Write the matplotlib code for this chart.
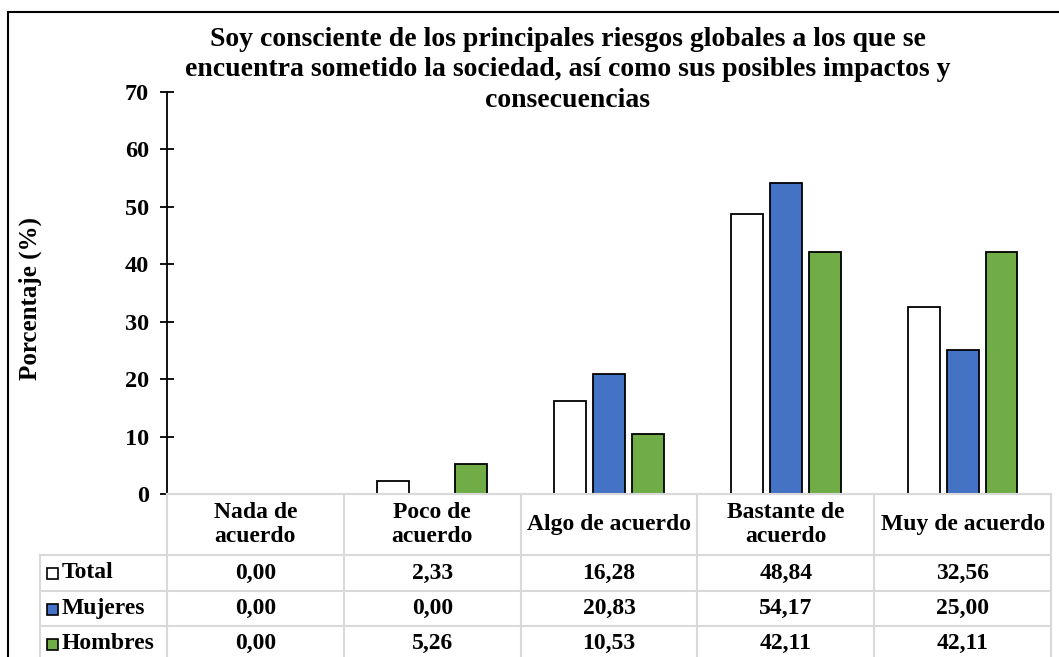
import matplotlib
matplotlib.use("Agg")
import matplotlib.pyplot as plt
import numpy as np
from matplotlib.patches import Rectangle
from matplotlib.lines import Line2D
from matplotlib.transforms import blended_transform_factory

# ==============================
# Datos
# ==============================
categorias = ["Nada de\nacuerdo", "Poco de\nacuerdo", "Algo de acuerdo",
              "Bastante de\nacuerdo", "Muy de acuerdo"]
series = ["Total", "Mujeres", "Hombres"]
total = [0.00, 2.33, 16.28, 48.84, 32.56]
mujeres = [0.00, 0.00, 20.83, 54.17, 25.00]
hombres = [0.00, 5.26, 10.53, 42.11, 42.11]
colores = ["#FFFFFF", "#4472C4", "#70AD47"]

titulo = ("Soy consciente de los principales riesgos globales a los que se\n"
          "encuentra sometido la sociedad, así como sus posibles impactos y\n"
          "consecuencias")

plt.rcParams['font.family'] = ['Liberation Serif', 'DejaVu Serif']
plt.rcParams['font.weight'] = 'bold'

W, H = 1059, 657
fig = plt.figure(figsize=(W / 100, H / 100), dpi=100)


def fx(px):
    return px / W


def fy(py):
    return 1 - py / H


# area del grafico (pixeles medidos en la referencia)
ax_left, ax_right, ax_top, ax_bottom = 167, 1051, 92, 494
ax = fig.add_axes([fx(ax_left), fy(ax_bottom), fx(ax_right - ax_left),
                   (ax_bottom - ax_top) / H])

# ==============================
# Barras
# ==============================
x = np.arange(len(categorias))
ancho = 0.18
paso = 0.22
for k, (vals, col) in enumerate(zip([total, mujeres, hombres], colores)):
    ax.bar(x + (k - 1) * paso, vals, width=ancho, color=col,
           edgecolor="black", linewidth=1.3, zorder=3)

ax.set_xlim(-0.5, len(categorias) - 0.5)
ax.set_ylim(0, 70)
ax.set_yticks(range(0, 71, 10))
ax.set_xticks([])
ax.tick_params(axis='y', direction='inout', length=10, width=1.3,
               labelsize=17.5, pad=8)
for lab in ax.get_yticklabels():
    lab.set_fontweight('bold')
for s in ['top', 'right']:
    ax.spines[s].set_visible(False)
ax.spines['left'].set_linewidth(1.3)
ax.spines['bottom'].set_color("#D9D9D9")
ax.spines['bottom'].set_linewidth(1.5)

fig.text(fx(30), fy(298), "Porcentaje (%)", rotation=90, ha='center',
         va='center', fontsize=18, fontweight='bold')
fig.text(fx(568), fy(70), titulo, ha='center', va='center', fontsize=20,
         fontweight='bold', linespacing=1.3)

# ==============================
# Tabla de datos
# ==============================
gris = "#D9D9D9"
filas_y = [494, 555, 591, 626, 661]
tr = blended_transform_factory(ax.transData, fig.transFigure)
lab_left = 40
fs_tabla = 17

# lineas horizontales
for i, py in enumerate(filas_y):
    x0 = fx(ax_left) if i == 0 else fx(lab_left)
    fig.add_artist(Line2D([x0, fx(ax_right)], [fy(py), fy(py)], color=gris,
                          linewidth=1.5, clip_on=False))
# lineas verticales
for b in np.arange(len(categorias) + 1) - 0.5:
    fig.add_artist(Line2D([b, b], [fy(494), fy(H + 10)], color=gris,
                          linewidth=1.5, transform=tr, clip_on=False))
fig.add_artist(Line2D([fx(lab_left)] * 2, [fy(555), fy(H + 10)], color=gris,
                      linewidth=1.5, clip_on=False))

# encabezados
cy = (filas_y[0] + filas_y[1]) / 2
for i, cat in enumerate(categorias):
    fig.text(i, fy(cy), cat, transform=tr, ha='center', va='center',
             fontsize=fs_tabla, fontweight='bold', linespacing=1.2)

# filas de valores
for r, (nombre, vals, col) in enumerate(zip(series, [total, mujeres, hombres],
                                            colores)):
    cy = (filas_y[r + 1] + filas_y[r + 2]) / 2
    fig.add_artist(Rectangle((fx(47), fy(cy + 6)), fx(11), 11 / H,
                             facecolor=col, edgecolor="black", linewidth=1.2))
    fig.text(fx(62), fy(cy), nombre, ha='left', va='center',
             fontsize=fs_tabla, fontweight='bold')
    for i, v in enumerate(vals):
        fig.text(i, fy(cy), f"{v:.2f}".replace(".", ","), transform=tr,
                 ha='center', va='center', fontsize=fs_tabla,
                 fontweight='bold')

# borde exterior
fig.add_artist(Rectangle((fx(8), fy(H + 20)), fx(W + 20), (H + 8) / H,
                         facecolor="none", edgecolor="black", linewidth=1.5,
                         clip_on=False))

plt.savefig("out.png", dpi=100)
